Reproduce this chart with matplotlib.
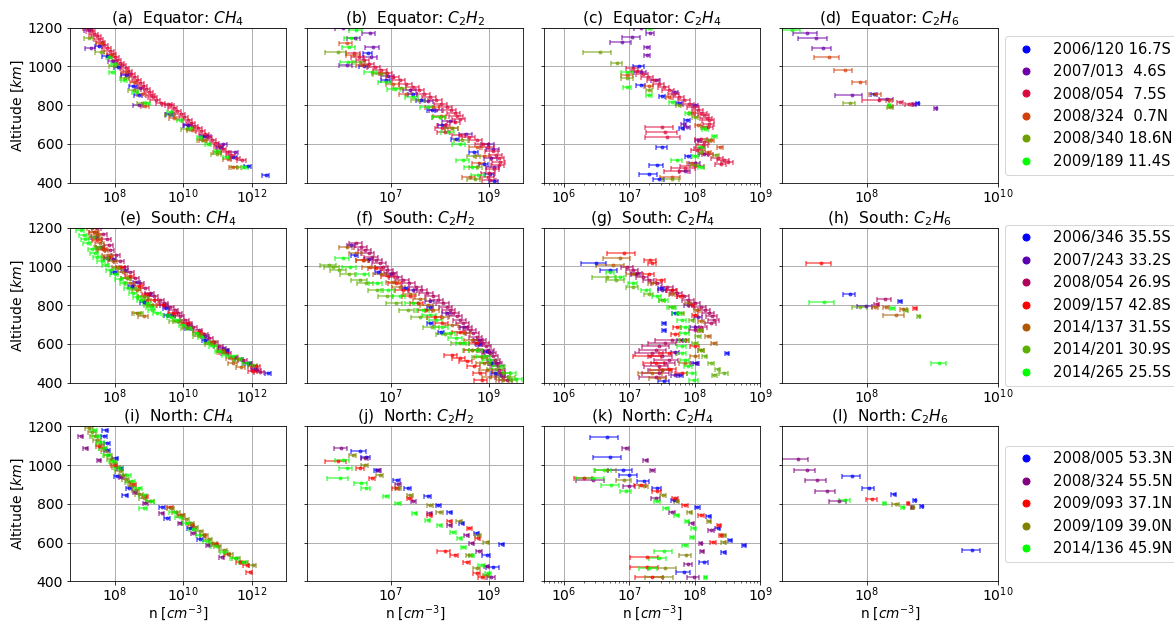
import numpy as np
import matplotlib
matplotlib.use("Agg")
import matplotlib.pyplot as plt
from matplotlib.lines import Line2D
from matplotlib.ticker import NullLocator

# ---------------- legend labels / colours ----------------
eq_labels = ["2006/120 16.7S", "2007/013  4.6S", "2008/054  7.5S",
             "2008/324  0.7N", "2008/340 18.6N", "2009/189 11.4S"]
eq_colors = ["#0000ff", "#6f00a8", "#dc0a3c", "#d2400c", "#6e9e00", "#00ff00"]

so_labels = ["2006/346 35.5S", "2007/243 33.2S", "2008/054 26.9S", "2009/157 42.8S",
             "2014/137 31.5S", "2014/201 30.9S", "2014/265 25.5S"]
so_colors = ["#0000ff", "#5800b0", "#b0005c", "#ff0000", "#b05800", "#5cb000", "#00ff00"]

no_labels = ["2008/005 53.3N", "2008/324 55.5N", "2009/093 37.1N",
             "2009/109 39.0N", "2014/136 45.9N"]
no_colors = ["#0000ff", "#800080", "#ff0000", "#808000", "#00ff00"]

# ---------------- (a) Equator CH4 : altitude [km], log10 n, fractional error ----------------
eq_ch4_alt = [
    [1105, 1053, 998, 955, 900, 852, 757, 700, 640, 585, 533, 486, 440],
    [1190, 1097, 1030, 960, 890, 803, 757, 700, 640, 602, 560],
    [1200, 1185, 1170, 1155, 1140, 1125, 1110, 1095, 1080, 1065, 1050, 1035, 1020, 1005, 990, 975,
     960, 945, 930, 915, 900, 885, 870, 855, 840, 825, 812, 806, 800, 785, 770, 755, 740, 725, 710,
     695, 680, 665, 650, 635, 620, 605, 590, 575, 560, 545, 530, 515],
    [1119, 1060, 972, 922, 860, 795, 734, 671, 619, 560, 520, 481],
    [1145, 1076, 1000, 938, 878, 809, 748, 679, 620, 550, 481],
    [1050, 1015, 972, 929, 869, 809, 766, 722, 680, 636, 602, 565, 533, 481],
]
eq_ch4_logn = [
    [7.55, 7.77, 8.10, 8.32, 8.55, 8.70, 9.62, 10.15, 10.62, 11.07, 11.46, 11.89, 12.42],
    [7.25, 7.30, 7.95, 8.35, 8.75, 8.70, 9.62, 10.15, 10.70, 11.17, 11.50],
    [7.22, 7.32, 7.40, 7.48, 7.55, 7.62, 7.70, 7.78, 7.86, 7.93, 8.00, 8.08, 8.15, 8.23, 8.32, 8.40,
     8.48, 8.57, 8.66, 8.75, 8.83, 8.92, 9.00, 9.07, 9.13, 9.20, 9.35, 9.55, 9.62, 9.72, 9.82, 9.93,
     10.03, 10.13, 10.23, 10.33, 10.43, 10.53, 10.63, 10.73, 10.83, 10.93, 11.04, 11.15, 11.27,
     11.40, 11.55, 11.72],
    [7.59, 7.90, 8.32, 8.56, 8.79, 8.90, 9.72, 10.25, 10.59, 11.00, 11.30, 11.46],
    [7.26, 7.59, 7.98, 8.30, 8.56, 8.80, 9.62, 10.10, 10.55, 10.98, 11.56],
    [7.84, 7.98, 7.93, 8.27, 8.61, 8.95, 9.62, 9.91, 10.20, 10.49, 10.73, 11.00, 11.27, 11.80],
]
eq_ch4_err = [0.25, 0.3, 0.3, 0.25, 0.3, 0.2]

# ---------------- (b) Equator C2H2 ----------------
eq_c2h2_alt = [
    [1067, 1000, 930, 860, 826, 774, 700, 628, 560, 498, 447, 410],
    [1197, 1171, 1145, 1102, 1050, 1007, 950, 880, 820, 774, 720, 653, 602, 576, 530, 480],
    [1070, 1050, 1033, 1015, 998, 980, 965, 947, 930, 912, 895, 878, 860, 843, 826, 808, 791, 775,
     760, 745, 730, 712, 697, 680, 662, 648, 635, 619, 600, 585, 565, 545, 525, 505, 490, 470, 450,
     430, 412],
    [1119, 1060, 1007, 964, 910, 860, 791, 745, 680, 585, 540, 500, 429],
    [1076, 1024, 960, 890, 826, 740, 680, 620, 540, 480, 421],
    [1188, 1145, 1102, 1024, 972, 920, 886, 840, 790, 740, 662, 600, 516, 481, 438],
]
eq_c2h2_logn = [
    [6.54, 6.45, 6.90, 7.45, 7.62, 7.83, 8.05, 8.32, 8.70, 8.90, 9.02, 9.10],
    [6.03, 6.57, 6.27, 6.64, 6.60, 6.10, 6.95, 7.40, 7.75, 7.93, 8.20, 8.54, 8.99, 9.09, 9.05, 9.10],
    [6.25, 6.35, 6.45, 6.55, 6.67, 6.80, 6.92, 7.05, 7.18, 7.32, 7.46, 7.57, 7.68, 7.80, 7.92, 8.03,
     8.14, 8.22, 8.30, 8.35, 8.40, 8.30, 8.10, 8.05, 8.10, 8.40, 8.60, 8.75, 8.88, 8.98, 9.08, 9.15,
     9.20, 9.22, 9.20, 9.10, 9.00, 8.98, 9.02],
    [6.10, 6.25, 6.44, 6.78, 7.05, 7.32, 7.86, 8.02, 8.25, 8.75, 8.90, 8.80, 8.61],
    [5.93, 6.37, 6.80, 7.20, 7.56, 8.00, 8.25, 8.45, 8.70, 8.75, 8.71],
    [6.30, 6.20, 6.16, 6.13, 6.61, 6.90, 7.08, 7.45, 7.75, 8.00, 8.17, 8.40, 8.48, 8.65, 8.78],
]
eq_c2h2_err = [0.2, 0.3, 0.3, 0.3,
               [0.45, 0.3, 0.3, 0.3, 0.3, 0.3, 0.3, 0.3, 0.3, 0.3, 0.3], 0.3]

# ---------------- (c) Equator C2H4 ----------------
eq_c2h4_alt = [
    [1000, 903, 850, 809, 722, 680, 585, 540, 490, 447, 420],
    [1197, 1171, 1153, 1128, 1098, 1059, 972, 930, 870, 800, 705, 688, 620, 550, 500, 460],
    [990, 975, 960, 945, 929, 912, 895, 878, 860, 843, 826, 808, 791, 775, 760, 748, 735, 722, 705,
     690, 688, 660, 636, 625, 610, 595, 580, 567, 550, 530, 516, 505, 495, 485, 475, 460],
    [955, 900, 840, 760, 700, 620, 585, 560, 500, 429],
    [1076, 1016, 938, 878, 800, 740, 688, 620, 559, 545, 490, 421],
    [1197, 972, 895, 852, 817, 760, 679, 640, 585, 540, 516, 481],
]
eq_c2h4_logn = [
    [7.15, 7.17, 7.50, 7.76, 7.88, 7.80, 7.50, 7.90, 7.42, 7.30, 7.45],
    [7.17, 7.32, 7.04, 6.89, 7.27, 7.27, 7.17, 7.40, 7.70, 8.00, 7.83, 7.88, 8.05, 8.14, 8.00, 7.85],
    [7.05, 7.12, 7.20, 7.28, 7.37, 7.45, 7.53, 7.60, 7.68, 7.76, 7.84, 7.91, 7.98, 8.05, 8.10, 8.14,
     8.18, 8.21, 8.22, 8.20, 7.50, 7.55, 7.58, 8.10, 8.14, 8.12, 8.08, 8.04, 8.20, 8.35, 8.44, 8.50,
     8.40, 8.00, 7.85, 7.75],
    [6.97, 7.30, 7.60, 7.95, 8.05, 8.25, 8.39, 8.20, 7.95, 7.65],
    [6.55, 6.81, 6.97, 7.30, 7.75, 8.00, 8.14, 8.20, 8.09, 8.32, 8.00, 7.65],
    [7.30, 6.97, 6.97, 7.30, 7.65, 7.90, 8.16, 8.30, 8.10, 8.00, 7.73, 8.10],
]
eq_c2h4_err = [
    [0.2, 0.15, 0.1, 0.1, 0.1, 0.1, 0.2, 0.1, 0.25, 0.3, 0.2],
    [0.2, 0.15, 0.3, 0.35, 0.1, 0.1, 0.2, 0.15, 0.1, 0.1, 0.1, 0.1, 0.1, 0.15, 0.2, 0.2],
    [0.2, 0.2, 0.2, 0.2, 0.2, 0.2, 0.2, 0.2, 0.2, 0.2, 0.2, 0.2, 0.2, 0.2, 0.2, 0.2, 0.2, 0.2,
     0.2, 0.2, 0.45, 0.5, 0.55, 0.2, 0.2, 0.2, 0.2, 0.2, 0.2, 0.2, 0.2, 0.2, 0.2, 0.4, 0.4, 0.4],
    [0.2, 0.15, 0.1, 0.1, 0.1, 0.1, 0.1, 0.1, 0.15, 0.35],
    [0.45, 0.2, 0.2, 0.1, 0.1, 0.1, 0.1, 0.1, 0.1, 0.1, 0.15, 0.3],
    [0.1, 0.2, 0.15, 0.1, 0.1, 0.1, 0.1, 0.1, 0.1, 0.1, 0.2, 0.1],
]

# ---------------- (d) Equator C2H6 ----------------
eq_c2h6_alt = [
    [857, 809],
    [1174, 1148, 1097, 855, 833, 805, 783],
    [826, 817, 808],
    [1050, 981, 921, 857, 826, 795],
    [809, 791],
    [1188, 800],
]
eq_c2h6_logn = [
    [8.11, 8.78],
    [7.09, 7.22, 7.33, 7.77, 8.31, 8.72, 9.05],
    [8.18, 8.51, 8.65],
    [7.42, 7.66, 7.89, 8.13, 8.34, 8.36],
    [7.74, 8.36],
    [6.86, 8.34],
]
eq_c2h6_err = [
    [0.1, 0.05],
    [0.4, 0.46, 0.32, 0.45, 0.25, 0.08, 0.05],
    [0.45, 0.1, 0.15],
    [0.41, 0.31, 0.24, 0.2, 0.1, 0.08],
    [0.2, 0.1],
    [0.3, 0.05],
]

# ---------------- (e) South CH4 ----------------
so_ch4_alt = [
    [1042, 973, 900, 819, 785, 750, 680, 620, 570, 500, 450],
    [1150, 1102, 1040, 980, 920, 860, 800, 750, 700, 640, 580, 520, 470],
    [1197, 1170, 1140, 1110, 1085, 1060, 1030, 999, 970, 940, 913, 890, 862, 845, 827, 810, 793,
     775, 758, 742, 725, 707, 690, 670, 650, 630, 610, 590, 570, 553, 535, 518, 500, 484, 468, 453],
    [1180, 1136, 1090, 1050, 999, 950, 900, 860, 827, 800, 760, 707, 660, 610, 560, 520, 484, 460],
    [1197, 1180, 1160, 1140, 1120, 1100, 1085, 1060, 1030, 999, 970, 940, 913, 880, 850, 827, 800,
     758, 745, 720, 690, 650, 610, 570, 530, 501, 480],
    [1154, 1100, 1042, 990, 940, 890, 840, 800, 758, 720, 680, 640, 600, 560, 520, 490],
    [1188, 1160, 1140, 1119, 1090, 1070, 1051, 1030, 1010, 982, 960, 935, 913, 890, 865, 844, 825,
     810, 793, 776, 760, 750, 737, 724, 700, 680, 656, 635, 610, 587, 565, 545, 536, 520, 501],
]
so_ch4_logn = [
    [7.79, 7.98, 8.50, 8.85, 9.50, 9.53, 10.15, 10.65, 11.27, 11.90, 12.47],
    [7.45, 7.59, 7.95, 8.30, 8.65, 9.00, 9.45, 9.67, 10.15, 10.65, 11.15, 11.65, 12.10],
    [7.50, 7.65, 7.78, 7.85, 7.88, 8.05, 8.15, 8.27, 8.45, 8.60, 8.75, 8.90, 9.04, 9.15, 9.33, 9.45,
     9.62, 9.75, 9.85, 9.91, 10.05, 10.15, 10.30, 10.45, 10.60, 10.75, 10.90, 11.05, 11.18, 11.27,
     11.50, 11.75, 11.90, 12.04, 12.15, 12.23],
    [7.40, 7.50, 7.65, 7.85, 8.20, 8.45, 8.70, 8.95, 9.14, 9.40, 9.70, 10.10, 10.45, 10.80, 11.20,
     11.60, 12.13, 12.05],
    [7.35, 7.42, 7.48, 7.52, 7.58, 7.62, 7.68, 7.80, 7.95, 8.08, 8.25, 8.35, 8.46, 8.65, 8.85, 8.95,
     9.10, 8.65, 8.85, 9.85, 10.15, 10.50, 10.85, 11.15, 11.40, 11.46, 11.70],
    [7.40, 7.55, 7.79, 8.10, 8.35, 8.60, 8.85, 9.00, 8.71, 9.75, 10.10, 10.45, 10.80, 11.15, 11.60,
     12.04],
    [7.01, 7.10, 7.15, 7.21, 7.35, 7.42, 7.50, 7.62, 7.75, 7.88, 8.00, 8.15, 8.27, 8.40, 8.55, 8.66,
     8.78, 8.95, 9.05, 9.09, 9.25, 9.53, 9.65, 9.82, 10.00, 10.20, 10.40, 10.55, 10.72, 10.88, 11.05,
     11.25, 11.46, 11.65, 11.85],
]
so_ch4_err = [0.2, 0.25, 0.3, 0.3, 0.3, 0.3, 0.25]

# ---------------- (f) South C2H2 ----------------
so_c2h2_alt = [
    [1059, 973, 887, 793, 707, 664, 600, 564, 500, 450],
    [1110, 1040, 960, 880, 820, 760, 690, 620, 560, 500, 440],
    [1119, 1100, 1085, 1068, 1050, 1033, 1016, 999, 982, 965, 948, 930, 913, 896, 879, 862, 845,
     828, 810, 793, 776, 759, 742, 724, 707, 690, 673, 656, 638, 621, 604, 587, 570, 553, 536, 518,
     501, 484, 467, 450, 432, 415],
    [1033, 990, 950, 913, 880, 845, 810, 776, 740, 707, 660, 604, 570, 544, 530, 510, 484, 450, 415],
    [1102, 1068, 1035, 999, 960, 920, 896, 860, 830, 800, 776, 740, 700, 656, 620, 570, 535, 501,
     466, 432, 415],
    [1005, 999, 980, 960, 930, 913, 880, 845, 810, 776, 740, 690, 650, 604, 570, 535, 501, 470, 450,
     430, 415],
    [1042, 999, 960, 913, 880, 845, 810, 776, 750, 724, 690, 656, 630, 604, 570, 540, 518, 484, 450,
     420],
]
so_c2h2_logn = [
    [6.27, 6.74, 7.29, 7.80, 7.80, 8.03, 8.80, 8.95, 9.05, 9.12],
    [6.20, 6.55, 7.00, 7.45, 7.80, 8.15, 8.50, 8.80, 9.00, 9.15, 9.25],
    [6.30, 6.40, 6.48, 6.55, 6.62, 6.70, 6.78, 6.84, 6.93, 7.02, 7.12, 7.25, 7.38, 7.52, 7.62, 7.74,
     7.86, 7.96, 8.07, 8.14, 8.20, 8.27, 8.34, 8.42, 8.48, 8.55, 8.62, 8.68, 8.75, 8.82, 8.88, 8.93,
     8.98, 9.02, 9.08, 9.12, 9.16, 9.19, 9.21, 9.22, 9.28, 9.36],
    [6.44, 6.70, 6.95, 7.10, 7.25, 7.39, 7.55, 7.72, 7.90, 8.05, 8.40, 8.75, 8.65, 8.24, 8.40, 8.55,
     8.70, 8.82, 8.85],
    [6.10, 6.30, 6.45, 6.57, 6.80, 7.05, 7.18, 7.40, 7.60, 7.75, 7.86, 8.05, 8.25, 8.50, 8.65, 8.75,
     8.85, 8.90, 8.95, 9.02, 9.29],
    [5.75, 5.82, 5.95, 6.15, 6.38, 6.50, 6.72, 6.92, 7.10, 7.35, 7.60, 7.85, 8.10, 8.41, 8.65, 8.85,
     9.00, 9.15, 9.29, 9.40, 9.45],
    [6.03, 6.17, 6.45, 6.71, 6.95, 7.18, 7.45, 7.66, 7.80, 7.93, 8.05, 8.20, 8.33, 8.48, 8.75, 8.90,
     9.02, 9.22, 9.43, 9.55],
]
so_c2h2_err = [0.15, 0.2, 0.3, 0.3, 0.3, 0.35, 0.3]

# ---------------- (g) South C2H4 ----------------
so_c2h4_alt = [
    [1016, 980, 887, 759, 707, 673, 553, 501, 441, 407],
    [960, 880, 800, 740, 690, 620, 560, 501, 440],
    [999, 980, 965, 948, 930, 913, 896, 879, 862, 845, 828, 810, 793, 776, 759, 742, 724, 707, 690,
     673, 620, 604, 587, 570, 553, 536, 518, 501, 484, 467, 450, 432],
    [1068, 1033, 1016, 960, 930, 880, 845, 800, 750, 690, 650, 620, 587, 553, 536, 501, 470, 450],
    [1042, 1008, 960, 913, 860, 810, 776, 720, 673, 640, 604, 570, 536, 501, 466, 450, 425],
    [948, 930, 896, 860, 827, 793, 759, 724, 673, 640, 604, 570, 536, 501, 470, 450, 440],
    [973, 948, 913, 880, 845, 827, 793, 759, 724, 690, 656, 621, 587, 553, 518, 484, 450, 415],
]
so_c2h4_logn = [
    [6.49, 6.70, 7.48, 7.70, 7.53, 7.53, 8.49, 8.01, 7.78, 7.53],
    [7.10, 7.50, 7.90, 8.05, 8.00, 7.80, 7.70, 8.01, 7.70],
    [6.97, 7.05, 7.12, 7.20, 7.30, 7.42, 7.58, 7.65, 7.72, 7.83, 7.90, 8.00, 8.09, 8.15, 8.21, 8.26,
     8.29, 8.25, 8.10, 8.00, 7.65, 7.55, 7.45, 7.40, 7.35, 7.50, 7.60, 7.55, 7.45, 7.50, 7.45, 7.40],
    [6.92, 7.32, 7.35, 7.30, 7.48, 7.65, 7.78, 7.95, 8.00, 7.73, 7.70, 7.85, 8.00, 7.60, 7.32, 7.40,
     7.60, 7.80],
    [6.85, 6.75, 7.05, 7.35, 7.65, 7.90, 8.04, 8.10, 8.09, 8.20, 8.29, 8.10, 8.00, 7.85, 7.50, 7.35,
     7.45],
    [6.65, 6.80, 7.05, 7.30, 7.50, 7.65, 7.80, 7.95, 8.09, 8.05, 8.00, 8.10, 8.15, 8.25, 8.35, 8.44,
     8.30],
    [6.71, 6.85, 7.05, 7.25, 7.42, 7.53, 7.65, 7.72, 7.80, 7.85, 7.85, 7.83, 7.80, 7.80, 7.85, 7.90,
     7.95, 7.98],
]
so_c2h4_err = [
    [0.42, 0.3, 0.1, 0.1, 0.08, 0.08, 0.08, 0.1, 0.1, 0.2],
    0.15,
    [0.2, 0.2, 0.2, 0.2, 0.2, 0.2, 0.2, 0.2, 0.2, 0.2, 0.2, 0.2, 0.2, 0.2, 0.2, 0.2, 0.2, 0.2, 0.2,
     0.2, 0.45, 0.45, 0.45, 0.45, 0.45, 0.4, 0.4, 0.4, 0.4, 0.4, 0.45, 0.45],
    [0.45, 0.2, 0.15, 0.2, 0.15, 0.15, 0.1, 0.1, 0.1, 0.15, 0.15, 0.15, 0.15, 0.3, 0.45, 0.35, 0.3,
     0.2],
    [0.45, 0.45, 0.2, 0.15, 0.1, 0.1, 0.1, 0.1, 0.1, 0.1, 0.1, 0.1, 0.15, 0.2, 0.35, 0.4, 0.3],
    [0.4, 0.3, 0.2, 0.15, 0.1, 0.1, 0.1, 0.1, 0.1, 0.1, 0.1, 0.1, 0.1, 0.1, 0.1, 0.15, 0.1],
    0.15,
]

# ---------------- (h) South C2H6 ----------------
so_c2h6_alt = [[858, 822], [797], [831, 805], [1016, 785], [793, 779, 747, 790],
               [790, 742, 775], [814, 785, 501]]
so_c2h6_logn = [[7.74, 8.51], [7.98], [8.28, 8.15], [7.30, 8.74], [8.13, 8.56, 8.44, 8.30],
                [7.90, 8.79, 8.60], [7.35, 8.39, 9.11]]
so_c2h6_err = [[0.2, 0.06], [0.25], [0.25, 0.1], [0.42, 0.06], [0.1, 0.12, 0.35, 0.1],
               [0.25, 0.05, 0.08], [0.42, 0.08, 0.25]]

# ---------------- (i) North CH4 ----------------
no_ch4_alt = [
    [1183, 1148, 1114, 1080, 1036, 984, 941, 881, 847, 786, 726, 674, 620],
    [1148, 1088, 1028, 940, 860, 803, 752, 700, 650, 588, 528],
    [1100, 1000, 900, 840, 786, 740, 690, 640, 590, 540, 500, 484, 450],
    [1191, 1170, 1150, 1130, 1110, 1090, 1070, 1050, 1030, 1010, 990, 970, 950, 930, 910, 890, 870,
     850, 830, 812, 780, 760, 740, 720, 700, 680, 660, 640, 620, 600, 580, 560, 540, 520, 500, 484],
    [1183, 1150, 1120, 1090, 1053, 1020, 985, 950, 920, 880, 847, 815, 778, 760, 730, 700, 670, 640,
     610, 580, 550, 520, 502],
]
no_ch4_logn = [
    [7.74, 7.70, 7.79, 7.78, 8.03, 8.17, 8.08, 8.42, 8.32, 9.38, 9.53, 10.20, 10.50],
    [7.01, 7.16, 7.55, 8.20, 8.60, 8.90, 9.38, 9.91, 10.30, 10.73, 11.12],
    [7.55, 8.00, 8.55, 8.90, 9.62, 9.95, 10.25, 10.60, 10.95, 11.30, 11.65, 11.85, 11.94],
    [7.26, 7.35, 7.42, 7.50, 7.58, 7.66, 7.74, 7.82, 7.90, 7.98, 8.06, 8.15, 8.24, 8.33, 8.42, 8.52,
     8.62, 8.72, 8.85, 9.04, 9.65, 9.80, 9.95, 10.08, 10.22, 10.35, 10.48, 10.62, 10.75, 10.88, 11.02,
     11.18, 11.35, 11.55, 11.78, 12.04],
    [7.40, 7.48, 7.58, 7.68, 7.79, 7.95, 8.12, 8.37, 8.50, 8.70, 8.85, 9.05, 8.85, 9.72, 9.90, 10.10,
     10.30, 10.50, 10.70, 10.95, 11.20, 11.50, 11.75],
]
no_ch4_err = [0.2, 0.15, 0.2, 0.25, 0.25]

# ---------------- (j) North C2H2 ----------------
no_c2h2_alt = [
    [1071, 1040, 976, 924, 881, 840, 795, 760, 700, 650, 591, 536, 476],
    [1088, 1036, 976, 900, 812, 752, 690, 640, 597, 554, 480, 424],
    [1019, 985, 933, 881, 829, 743, 709, 674, 622, 554, 536, 502, 441, 420],
    [1053, 1002, 950, 881, 847, 795, 760, 709, 640, 605, 536, 467, 433],
    [1028, 985, 933, 907, 881, 838, 803, 752, 717, 691, 657, 622, 579, 536, 484, 441],
]
no_c2h2_logn = [
    [6.37, 6.50, 6.72, 7.12, 7.35, 7.75, 7.97, 8.20, 8.45, 8.75, 9.26, 8.95, 9.09],
    [5.99, 6.47, 6.75, 7.15, 7.46, 7.80, 8.20, 8.55, 8.65, 8.80, 8.95, 9.05],
    [5.92, 6.38, 6.62, 7.10, 7.38, 7.80, 8.20, 8.60, 8.77, 8.10, 8.30, 8.55, 8.75, 8.85],
    [6.23, 6.47, 6.78, 7.15, 7.40, 7.80, 8.00, 8.40, 8.78, 8.95, 8.60, 8.75, 8.95],
    [6.03, 6.10, 5.96, 6.40, 6.50, 6.91, 7.15, 7.49, 7.76, 8.00, 8.27, 8.40, 8.48, 8.65, 8.85, 8.99],
]
no_c2h2_err = [
    [0.35, 0.2, 0.15, 0.15, 0.15, 0.15, 0.12, 0.12, 0.12, 0.12, 0.12, 0.2, 0.3],
    [0.3, 0.15, 0.12, 0.12, 0.12, 0.12, 0.12, 0.12, 0.12, 0.12, 0.12, 0.2],
    [0.45, 0.2, 0.15, 0.15, 0.12, 0.12, 0.12, 0.12, 0.12, 0.3, 0.2, 0.15, 0.15, 0.15],
    0.15,
    [0.3, 0.3, 0.45, 0.3, 0.2, 0.15, 0.12, 0.12, 0.12, 0.12, 0.12, 0.12, 0.12, 0.12, 0.15, 0.15],
]

# ---------------- (k) North C2H4 ----------------
no_c2h4_alt = [
    [1143, 1040, 976, 950, 916, 881, 821, 786, 735, 674, 614, 588, 553, 502, 450],
    [1088, 1028, 976, 924, 890, 830, 760, 700, 665, 597, 554, 490, 424],
    [933, 898, 864, 829, 795, 743, 691, 640, 605, 528, 476, 424],
    [976, 924, 890, 847, 812, 760, 709, 640, 605, 536, 467, 424],
    [976, 933, 898, 864, 812, 778, 743, 709, 674, 631, 588, 554, 519, 467, 424],
]
no_c2h4_logn = [
    [6.66, 6.71, 6.90, 7.00, 7.22, 7.42, 7.68, 8.04, 8.21, 8.35, 8.54, 8.75, 8.44, 8.14, 7.83],
    [6.94, 7.25, 7.35, 6.45, 7.00, 7.40, 7.65, 7.95, 8.25, 8.09, 8.11, 7.90, 7.98],
    [6.31, 7.17, 7.42, 7.70, 7.85, 8.10, 8.37, 8.40, 8.28, 7.27, 7.27, 7.35],
    [6.66, 6.92, 7.22, 7.52, 7.72, 7.92, 8.22, 8.44, 8.44, 7.86, 7.55, 7.50],
    [6.61, 6.45, 6.72, 6.95, 7.42, 7.56, 7.72, 7.88, 7.98, 7.96, 7.85, 7.53, 7.45, 7.30, 8.16],
]
no_c2h4_err = [
    [0.45, 0.45, 0.4, 0.3, 0.2, 0.15, 0.1, 0.08, 0.08, 0.08, 0.08, 0.06, 0.08, 0.15, 0.25],
    [0.12, 0.08, 0.08, 0.45, 0.2, 0.15, 0.1, 0.1, 0.1, 0.06, 0.08, 0.15, 0.2],
    [0.3, 0.2, 0.15, 0.1, 0.1, 0.1, 0.08, 0.08, 0.1, 0.45, 0.45, 0.45],
    [0.35, 0.25, 0.15, 0.1, 0.1, 0.1, 0.08, 0.08, 0.08, 0.2, 0.45, 0.45],
    [0.3, 0.45, 0.3, 0.2, 0.1, 0.1, 0.08, 0.08, 0.08, 0.08, 0.1, 0.3, 0.3, 0.3, 0.06],
]

# ---------------- (l) North C2H6 ----------------
no_c2h6_alt = [[941, 879, 848, 821, 791, 559], [1031, 974, 922, 867, 812, 786],
               [824, 802], [798, 786], [819, 802, 783]]
no_c2h6_logn = [[7.78, 8.03, 8.41, 8.73, 8.84, 9.61], [6.95, 7.08, 7.24, 7.39, 7.57, 8.69],
                [8.08, 8.63], [8.44, 8.70], [7.67, 8.27, 8.55]]
no_c2h6_err = [[0.3, 0.2, 0.08, 0.05, 0.05, 0.3], [0.43, 0.35, 0.35, 0.35, 0.3, 0.05],
               [0.2, 0.05], [0.12, 0.05], [0.2, 0.05, 0.05]]

species = ["$CH_4$", "$C_2H_2$", "$C_2H_4$", "$C_2H_6$"]
regions = ["Equator", "South", "North"]
letters = "abcdefghijkl"

plt.rcParams["font.size"] = 14

DPI = 72
W, H = 1174.0, 622.0
fig = plt.figure(figsize=(W / DPI, H / DPI), dpi=DPI)
col_left = [70, 307.3, 544.3, 781.7]
row_top = [27.7, 227.7, 426.3]
ax_w, ax_h = 216.0, 155.0

xlims = [(5e6, 1e13), (2e5, 5e9), (5e5, 1e9), (5e6, 1e10)]
xticks = [[1e8, 1e10, 1e12], [1e7, 1e9], [1e6, 1e7, 1e8, 1e9], [1e8, 1e10]]

panels = [
    [(eq_ch4_alt, eq_ch4_logn, eq_ch4_err), (eq_c2h2_alt, eq_c2h2_logn, eq_c2h2_err),
     (eq_c2h4_alt, eq_c2h4_logn, eq_c2h4_err), (eq_c2h6_alt, eq_c2h6_logn, eq_c2h6_err)],
    [(so_ch4_alt, so_ch4_logn, so_ch4_err), (so_c2h2_alt, so_c2h2_logn, so_c2h2_err),
     (so_c2h4_alt, so_c2h4_logn, so_c2h4_err), (so_c2h6_alt, so_c2h6_logn, so_c2h6_err)],
    [(no_ch4_alt, no_ch4_logn, no_ch4_err), (no_c2h2_alt, no_c2h2_logn, no_c2h2_err),
     (no_c2h4_alt, no_c2h4_logn, no_c2h4_err), (no_c2h6_alt, no_c2h6_logn, no_c2h6_err)],
]
row_colors = [eq_colors, so_colors, no_colors]
row_labels = [eq_labels, so_labels, no_labels]

for r in range(3):
    for c in range(4):
        x0 = col_left[c] / W
        y0 = 1 - (row_top[r] + ax_h) / H
        ax = fig.add_axes([x0, y0, ax_w / W, ax_h / H])
        alts, logns, errs = panels[r][c]
        for alt, lg, err, col in zip(alts, logns, errs, row_colors[r]):
            n = 10.0 ** np.array(lg)
            xe = np.broadcast_to(np.asarray(err, dtype=float), n.shape) * n
            ax.errorbar(n, alt, xerr=xe, fmt="o", ms=3, color=col, alpha=0.6,
                        elinewidth=1.6, capsize=2.5, capthick=1.6)
        ax.set_xscale("log")
        ax.set_xlim(*xlims[c])
        ax.set_xticks(xticks[c])
        if c != 2:
            ax.xaxis.set_minor_locator(NullLocator())
        ax.tick_params(axis="x", pad=1)
        ax.set_ylim(400, 1200)
        ax.set_yticks([400, 600, 800, 1000, 1200])
        ax.grid(True, color="#b0b0b0", linewidth=1.0)
        ax.set_axisbelow(True)
        ax.set_title("(%s)  %s: %s" % (letters[r * 4 + c], regions[r], species[c]),
                     fontsize=15.5, pad=4)
        if c == 0:
            ax.set_ylabel("Altitude [$km$]", labelpad=2)
        else:
            ax.tick_params(labelleft=False)
        if r == 2:
            ax.set_xlabel("n [$cm^{-3}$]", labelpad=-1.5, fontsize=13.6)
        if c == 3:
            handles = [Line2D([], [], marker="o", ls="", color=col, ms=7)
                       for col in row_colors[r]]
            ax.legend(handles, row_labels[r], loc="center left", bbox_to_anchor=(1.036, 0.5),
                      borderaxespad=0, fontsize=14.8)

fig.savefig("out.png", dpi=DPI)
